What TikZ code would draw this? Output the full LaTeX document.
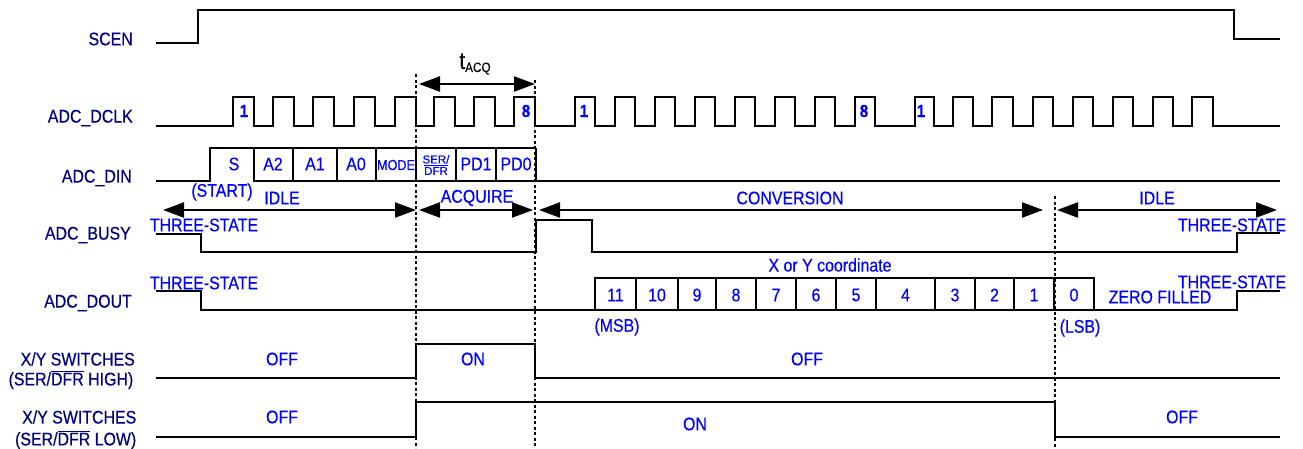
\documentclass[tikz,border=0pt]{standalone}
\usepackage{fontspec}
\setmainfont{Liberation Sans}
\newfontfamily\lbl[FakeStretch=0.87,FakeBold=0.4]{Liberation Sans}
\newfontfamily\lblw[FakeBold=0.4]{Liberation Sans}
\usetikzlibrary{arrows.meta}
\definecolor{navy}{RGB}{0,0,128}
\definecolor{lblue}{RGB}{0,0,255}
\newcommand\myovl[1]{\vbox{\hrule height 1pt\kern 1pt\hbox{#1}}}
\tikzset{
  sig/.style={line width=2.2pt, black},
  marker/.style={line width=2pt, black, dash pattern=on 3pt off 2.5pt},
  span/.style={line width=2.2pt, black, {Triangle[length=21pt,width=15pt]}-{Triangle[length=21pt,width=15pt]}},
  sname/.style={anchor=east, inner sep=0pt, text=navy, font=\lbl\fontsize{18.3}{20}\selectfont},
  bl/.style={inner sep=0pt, text=lblue, font=\lbl\fontsize{18.3}{20}\selectfont},
  blb/.style={inner sep=0pt, text=lblue, font=\lbl\bfseries\fontsize{17.5}{19}\selectfont},
  blsmall/.style={inner sep=0pt, text=lblue, font=\lbl\fontsize{14.5}{16}\selectfont},
  bltiny/.style={inner sep=0pt, text=lblue, align=center, font=\lblw\fontsize{11.5}{12.5}\selectfont},
}
\begin{document}
\begin{tikzpicture}[x=1pt,y=-1pt]
\useasboundingbox (0,0) rectangle (1303,448);

% signal names
\node[sname] (nscen) at (133,39) {SCEN};
\node[sname] (ndclk) at (133,118) {ADC\_DCLK};
\node[sname] (ndin) at (132,178) {ADC\_DIN};
\node[sname] (nbusy) at (131,235) {ADC\_BUSY};
\node[sname] (ndout) at (132,303) {ADC\_DOUT};
\node[sname] (nsw1a) at (135,359) {X/Y SWITCHES};
\node[sname] (nsw1b) at (133.5,380) {(SER/\myovl{DFR} HIGH)};
\node[sname] (nsw2a) at (136.5,417) {X/Y SWITCHES};
\node[sname] (nsw2b) at (136.5,440) {(SER/\myovl{DFR} LOW)};

% SCEN
\draw[sig] (156,43) -- (198,43) -- (198,10) -- (1234,10) -- (1234,39) -- (1280,39);

% ADC_DCLK
\draw[sig] (156,126)
  \foreach \r/\f in {233/254,273/294,313/334,354/375,395/416,434/455,474/495,514/535,
                     575/595,615/635,655/675,695/715,735/755,775/795,815/835,855/875,
                     915/934,953/973,992/1013,1033/1053,1073/1093,1113/1133,1153/1173,1192/1213}
  { -- (\r,126) -- (\r,97) -- (\f,97) -- (\f,126) } -- (1280,126);
\node[blb] (c1a) at (244,111) {1};
\node[blb] (c8a) at (526,111) {8};
\node[blb] (c1b) at (584,111) {1};
\node[blb] (c8b) at (864,111) {8};
\node[blb] (c1c) at (921,111) {1};

% t_ACQ
\node[inner sep=0pt, text=black] (tacq) at (475,64)
  {\lbl\fontsize{24}{24}\selectfont t\fontsize{13.5}{14}\selectfont\raisebox{-3pt}{ACQ}};
\coordinate (ta) at (419,84);
\coordinate (tb) at (535,84);
\draw[span] (ta) -- (tb);

% dashed markers
\draw[marker] (416,74) -- (416,448);
\draw[marker] (535,80) -- (535,448);
\draw[marker] (1055,196) -- (1055,448);

% ADC_DIN
\draw[sig] (156,181) -- (210,181) -- (210,148) -- (536,148);
\draw[sig] (254,148) -- (254,181) -- (1280,181);
\foreach \x in {293,337,376,416,456,496,536} \draw[sig] (\x,148) -- (\x,181);
\node[bl] (dS) at (234,164) {S};
\node[bl] (dA2) at (273,164) {A2};
\node[bl] (dA1) at (315,164) {A1};
\node[bl] (dA0) at (356,164) {A0};
\node[blsmall] (dM) at (396,165) {MODE};
\node[bltiny] (dSD) at (436,165) {SER/\\[-1pt]\myovl{DFR}};
\node[bl] (dP1) at (476,164) {PD1};
\node[bl] (dP0) at (516,164) {PD0};

% phase labels and arrows
\node[bl] (lstart) at (222,192) {(START)};
\node[bl] (lidle1) at (282,198) {IDLE};
\node[bl] (lacq) at (477,198) {ACQUIRE};
\node[bl] (lconv) at (790,198) {CONVERSION};
\node[bl] (lidle2) at (1157,198) {IDLE};
\coordinate (p1) at (163,210); \coordinate (p2) at (416,210);
\coordinate (p3) at (419,210); \coordinate (p4) at (533,210);
\coordinate (p5) at (539,210); \coordinate (p6) at (1043,210);
\coordinate (p7) at (1057,210); \coordinate (p8) at (1277,210);
\draw[span] (p1) -- (p2);
\draw[span] (p3) -- (p4);
\draw[span] (p5) -- (p6);
\draw[span] (p7) -- (p8);

% ADC_BUSY
\draw[sig] (156,234) -- (201,234) -- (201,252) -- (536,252) -- (536,220) -- (592,220)
  -- (592,252) -- (1237,252) -- (1237,233) -- (1280,233);
\node[bl] (bts1) at (204,225) {THREE-STATE};
\node[bl] (bts2) at (1232,225) {THREE-STATE};

% ADC_DOUT
\draw[sig] (156,291) -- (201,291) -- (201,310) -- (1237,310) -- (1237,291) -- (1280,291);
\draw[sig] (595,278) rectangle (1094,310);
\foreach \x in {636,678,716,756,796,836,876,935,975,1014,1054} \draw[sig] (\x,278) -- (\x,310);
\foreach \a/\b/\t in {595/636/11,636/678/10,678/716/9,716/756/8,756/796/7,796/836/6,836/876/5,
                      876/935/4,935/975/3,975/1014/2,1014/1054/1,1054/1094/0}
  \node[bl] (bit\t) at ({(\a+\b)/2},295) {\t};
\node[bl] (oxy) at (830,265) {X or Y coordinate};
\node[bl] (ots1) at (204,283) {THREE-STATE};
\node[bl] (ots2) at (1232,282) {THREE-STATE};
\node[bl] (ozf) at (1160,297) {ZERO FILLED};
\node[bl] (omsb) at (617,327) {(MSB)};
\node[bl] (olsb) at (1080,328) {(LSB)};

% X/Y switches (SER/DFR high)
\draw[sig] (156,378) -- (416,378) -- (416,344) -- (535,344) -- (535,378) -- (1280,378);
\node[bl] (s1off1) at (282,359) {OFF};
\node[bl] (s1on) at (473,359) {ON};
\node[bl] (s1off2) at (807,359) {OFF};

% X/Y switches (SER/DFR low)
\draw[sig] (156,437) -- (416,437) -- (416,402) -- (1055,402) -- (1055,437) -- (1280,437);
\node[bl] (s2off1) at (282,417) {OFF};
\node[bl] (s2on) at (695,424) {ON};
\node[bl] (s2off2) at (1182,417) {OFF};
\end{tikzpicture}
\end{document}
